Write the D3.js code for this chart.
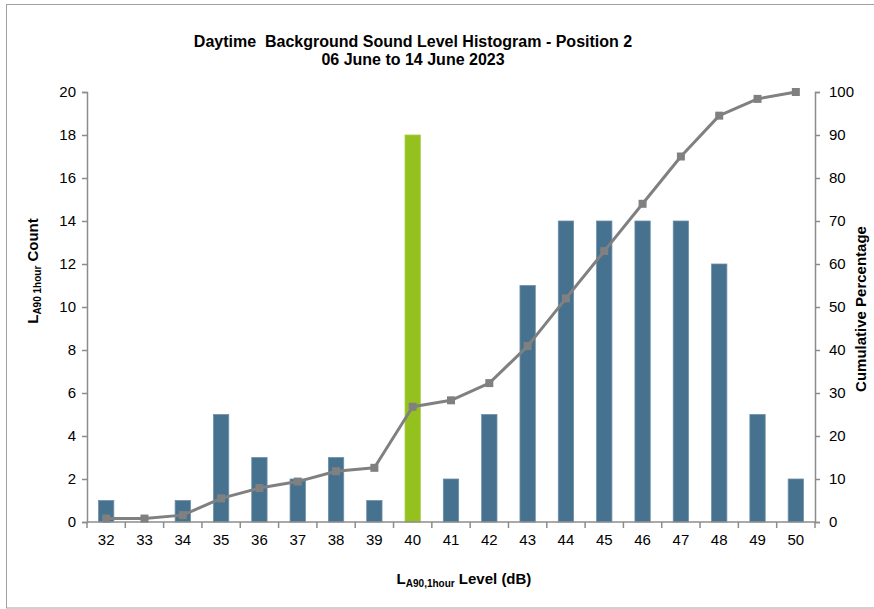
<!DOCTYPE html>
<html><head><meta charset="utf-8">
<script src="https://cdn.jsdelivr.net/npm/d3@7"></script>
<style>body{margin:0;background:#fff}svg{display:block;font-family:"Liberation Sans",Arial,sans-serif}</style>
</head><body>
<svg id="c" width="874" height="609"></svg>
<script>
const categories = [32,33,34,35,36,37,38,39,40,41,42,43,44,45,46,47,48,49,50];
const counts = [1,0,1,5,3,2,3,1,18,2,5,11,14,14,14,14,12,5,2];
const cumulative = [0.8,0.8,1.6,5.5,7.9,9.4,11.8,12.6,26.8,28.3,32.3,40.9,52.0,63.0,74.0,85.0,94.5,98.4,100];
const highlight = 40;
const leftTicks = [0,2,4,6,8,10,12,14,16,18,20];
const rightTicks = [0,10,20,30,40,50,60,70,80,90,100];

const svg = d3.select("#c");
const L = 87, R = 815, T = 92, B = 522;
const axisCol = "#8c8c8c";

// frame
svg.append("rect").attr("x",6.5).attr("y",4.5).attr("width",880).attr("height",603.5)
  .attr("fill","none").attr("stroke","#a0a0a0").attr("stroke-width",1);

const x = d3.scaleBand().domain(categories).range([L,R]).paddingInner(0.6).paddingOuter(0.3);
const xPts = d3.scaleBand().domain(categories).range([L,R]);
const y = d3.scaleLinear().domain([0,20]).range([B,T]);
const y2 = d3.scaleLinear().domain([0,100]).range([B,T]);

// bars
svg.append("g").selectAll("rect").data(categories).join("rect")
  .attr("x", d=>x(d)).attr("width", x.bandwidth())
  .attr("y", (d,i)=>y(counts[i])).attr("height",(d,i)=>B-y(counts[i]))
  .attr("fill", d=> d===highlight ? "#95c11f" : "#46718f")
  .attr("stroke", d=> d===highlight ? "#a9cd45" : "#6f8fa8").attr("stroke-width",0.8);

// axes
const gl = svg.append("g").attr("transform",`translate(${L},0)`)
  .call(d3.axisLeft(y).tickValues(leftTicks).tickSize(5).tickPadding(6));
const gr = svg.append("g").attr("transform",`translate(${R},0)`)
  .call(d3.axisRight(y2).tickValues(rightTicks).tickSize(5).tickPadding(9));
const gx = svg.append("g").attr("transform",`translate(0,${B})`)
  .call(d3.axisBottom(xPts).tickSize(0).tickPadding(12));
// x ticks between categories
svg.append("g").selectAll("line").data(d3.range(categories.length+1)).join("line")
  .attr("x1", i=>L + i*xPts.step()).attr("x2", i=>L + i*xPts.step())
  .attr("y1", B).attr("y2", B+6).attr("stroke",axisCol).attr("stroke-width",1.5);

[gl,gr,gx].forEach(g=>{
  g.selectAll("path").attr("stroke",axisCol).attr("stroke-width",1.5);
  g.selectAll(".tick line").attr("stroke",axisCol).attr("stroke-width",1.5);
  g.selectAll("text").attr("font-size",15).attr("fill","#000").attr("font-family","Liberation Sans, Arial, sans-serif");
});
gx.select("path").attr("d",`M${L},0H${R}`);

// line
const line = d3.line().x((d,i)=>xPts(categories[i])+xPts.bandwidth()/2).y(d=>y2(d));
svg.append("path").datum(cumulative).attr("d",line)
  .attr("fill","none").attr("stroke","#808080").attr("stroke-width",3).attr("stroke-linejoin","round");
svg.append("g").selectAll("rect").data(cumulative).join("rect")
  .attr("x",(d,i)=>xPts(categories[i])+xPts.bandwidth()/2-4)
  .attr("y",d=>y2(d)-4).attr("width",8).attr("height",8).attr("fill","#808080");

// titles
const title = svg.append("text").attr("x",413).attr("text-anchor","middle")
  .attr("font-weight","bold").attr("font-size",16);
title.append("tspan").attr("x",413).attr("y",47).text("Daytime\u00a0 Background Sound Level Histogram - Position 2");
title.append("tspan").attr("x",413).attr("y",65).text("06 June to 14 June 2023");

// y label
const yl = svg.append("text").attr("transform","translate(38,271) rotate(-90)")
  .attr("text-anchor","middle").attr("font-weight","bold").attr("font-size",15);
yl.append("tspan").text("L");
yl.append("tspan").attr("font-size",10).attr("dy",3).text("A90 1hour");
yl.append("tspan").attr("dy",-3).text(" Count");

// right label
svg.append("text").attr("transform","translate(866,309) rotate(-90)")
  .attr("text-anchor","middle").attr("font-weight","bold").attr("font-size",15)
  .text("Cumulative Percentage");

// x label
const xl = svg.append("text").attr("x",464).attr("y",584)
  .attr("text-anchor","middle").attr("font-weight","bold").attr("font-size",15);
xl.append("tspan").text("L");
xl.append("tspan").attr("font-size",10).attr("dy",3).text("A90,1hour");
xl.append("tspan").attr("dy",-3).text(" Level (dB)");
</script>
</body></html>
